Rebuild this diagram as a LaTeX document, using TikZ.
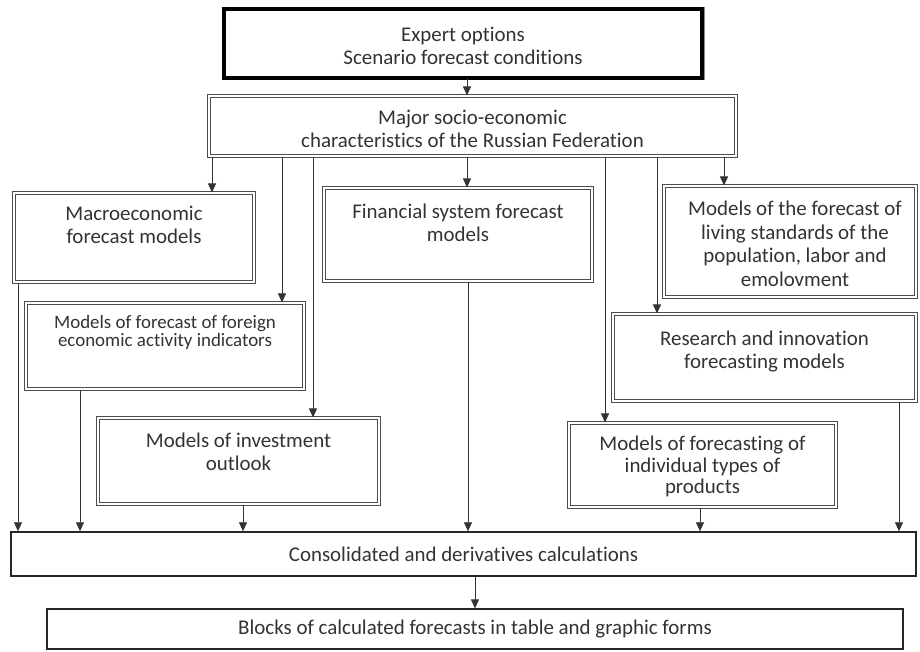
\documentclass[tikz,border=0pt]{standalone}
\usepackage{fontspec}
\setmainfont{Carlito}[Ligatures=NoCommon]
\usetikzlibrary{arrows.meta}

\tikzset{
  mbox/.style={draw=black!70, double=white, double distance=1.5pt, line width=1.1pt, inner sep=0pt},
  topbox/.style={draw=black!45, double=black, double distance=3.4pt, line width=0.8pt, inner sep=0pt},
  flatbox/.style={draw=black!85, line width=1.5pt, inner sep=0pt},
  txt/.style={align=center, inner sep=0pt, text=black!80, font=\fontsize{21}{23}\selectfont},
  arr/.style={draw=black!80, line width=0.8pt, -{Triangle[length=9pt,width=8pt]}}
}

\begin{document}
\begin{tikzpicture}[x=1bp, y=-1bp]
\fill[white] (0,0) rectangle (920,652);
\useasboundingbox (0,0) rectangle (920,652);

% boxes
\node[topbox, minimum width=478bp, minimum height=69bp] (expert) at (463,43.5) {};
\node[mbox, minimum width=527bp, minimum height=60bp] (major) at (472.5,126) {};
\node[mbox, minimum width=240bp, minimum height=89bp] (macro) at (134,237.5) {};
\node[mbox, minimum width=278bp, minimum height=86bp] (foreign) at (165,346) {};
\node[mbox, minimum width=268bp, minimum height=93bp] (fin) at (458,234.5) {};
\node[mbox, minimum width=252bp, minimum height=111bp] (living) at (790,241.5) {};
\node[mbox, minimum width=303bp, minimum height=87bp] (research) at (764.5,357.5) {};
\node[mbox, minimum width=281bp, minimum height=86bp] (invest) at (238.5,461) {};
\node[mbox, minimum width=267bp, minimum height=84bp] (indiv) at (702.5,465) {};
\node[flatbox, minimum width=905bp, minimum height=44bp] (cons) at (463.5,554) {};
\node[flatbox, line width=1.2pt, minimum width=856bp, minimum height=40bp] (blocks) at (475,629) {};

% texts
\node[txt] (expert-t) at ([yshift=-2pt]expert.center) {Expert options\\Scenario forecast conditions};
\node[txt] (major-t) at ([yshift=-3pt]major.center) {Major socio-economic\\characteristics of the Russian Federation};
\node[txt, anchor=north] (macro-t) at ([yshift=-14pt]macro.north) {Macroeconomic\\forecast models};
\node[txt, anchor=north, font=\fontsize{19}{18}\selectfont] (foreign-t) at ([yshift=-13pt]foreign.north) {Models of forecast of foreign\\economic activity indicators};
\node[txt, anchor=north] (fin-t) at ([yshift=-16pt]fin.north) {Financial system forecast\\models};
\node[txt, anchor=north, font=\fontsize{21}{24}\selectfont] (living-t) at ([xshift=5pt,yshift=-15pt]living.north) {Models of the forecast of\\living standards of the\\population, labor and\\emolovment};
\node[txt, anchor=north] (research-t) at ([yshift=-17pt]research.north) {Research and innovation\\forecasting models};
\node[txt, anchor=north] (invest-t) at ([yshift=-15pt]invest.north) {Models of investment\\outlook};
\node[txt, anchor=north, font=\fontsize{21}{22}\selectfont] (indiv-t) at ([yshift=-13pt]indiv.north) {Models of forecasting of\\individual types of\\products};
\node[txt] (cons-t) at (cons) {Consolidated and derivatives calculations};
\node[txt] (blocks-t) at (blocks) {Blocks of calculated forecasts in table and graphic forms};

% connectors
\coordinate (k) at (467,0);
\draw[arr] (expert.south -| k) -- (major.north -| k);
\foreach \xx/\dst in {212/macro, 282/foreign, 313/invest, 467/fin, 605/indiv, 657/research, 724/living} {
  \coordinate (k) at (\xx,0);
  \draw[arr] (major.south -| k) -- (\dst.north -| k);
}
\foreach \xx/\src in {18/macro, 80/foreign, 243/invest, 468/fin, 700/indiv, 899/research} {
  \coordinate (k) at (\xx,0);
  \draw[arr] (\src.south -| k) -- (cons.north -| k);
}
\coordinate (k) at (475,0);
\draw[arr] (cons.south -| k) -- (blocks.north -| k);
\end{tikzpicture}
\end{document}
